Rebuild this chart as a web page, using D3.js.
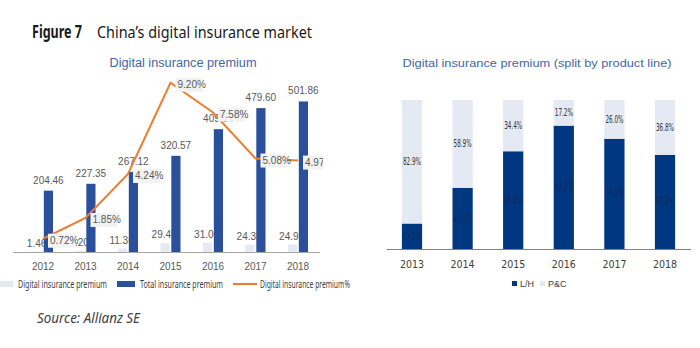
<!DOCTYPE html>
<html>
<head>
<meta charset="utf-8">
<script src="https://cdn.jsdelivr.net/npm/d3@7"></script>
<style>
  html, body { margin: 0; padding: 0; background: #fff; }
  svg { display: block; }
</style>
</head>
<body>
<div id="chart"></div>
<script>
// Left panel data
const years = ["2012", "2013", "2014", "2015", "2016", "2017", "2018"];
const digitalPremium = [1.46, 3.20, 11.36, 29.49, 31.00, 24.35, 24.93];
const totalPremium = [204.46, 227.35, 267.12, 320.57, 409.34, 479.60, 501.86];
const digitalShare = [0.72, 1.85, 4.24, 9.20, 7.58, 5.08, 4.97];

// Right panel data
const splitYears = ["2013", "2014", "2015", "2016", "2017", "2018"];
const lifeHealth = [17.1, 41.1, 65.6, 82.8, 74.0, 63.2];
const propertyCasualty = [82.9, 58.9, 34.4, 17.2, 26.0, 36.8];

const width = 700, height = 348;
const darkBlue = "#2a4f9b";
const lightBlue = "#e4e9f4";
const orange = "#ed7d31";
const navy = "#003781";
const grayText = "#595959";
const numFont = "'Liberation Sans', Arial, sans-serif";
const humanFont = "'Noto Sans', 'Open Sans', sans-serif";
const narrowFont = "'Liberation Sans Narrow', 'DejaVu Sans Condensed', sans-serif";

const svg = d3.select("#chart").append("svg")
  .attr("width", width)
  .attr("height", height)
  .attr("viewBox", `0 0 ${width} ${height}`);

// Heading
svg.append("text")
  .attr("x", 32).attr("y", 38)
  .attr("font-family", humanFont)
  .attr("font-weight", "bold")
  .attr("font-size", 17)
  .attr("fill", "#1a1a1a")
  .attr("textLength", 50).attr("lengthAdjust", "spacingAndGlyphs")
  .text("Figure 7");

svg.append("text")
  .attr("x", 97).attr("y", 38)
  .attr("font-family", humanFont)
  .attr("font-size", 17)
  .attr("fill", "#1a1a1a")
  .attr("textLength", 215).attr("lengthAdjust", "spacingAndGlyphs")
  .text("China\u2019s digital insurance market");

// ---------- Left panel ----------
svg.append("clipPath").attr("id", "left-clip")
  .append("rect").attr("x", 0).attr("y", 0).attr("width", 323).attr("height", height);

const left = svg.append("g").attr("clip-path", "url(#left-clip)");

const baseL = 252;
const x = d3.scaleBand().domain(years).range([21.75, 319.25]);
const sub = d3.scaleBand().domain(["digital", "total"]).range([-10, 10]).paddingInner(0.15);
const y = d3.scaleLinear().domain([0, 600]).range([baseL, 72]);
const yPct = d3.scaleLinear().domain([0, 10]).range([baseL, 68]);
const cx = d => x(d) + x.bandwidth() / 2;

svg.append("text")
  .attr("x", 183).attr("y", 67)
  .attr("text-anchor", "middle")
  .attr("font-family", numFont)
  .attr("font-size", 12)
  .attr("fill", "#3f66a6")
  .attr("textLength", 147).attr("lengthAdjust", "spacingAndGlyphs")
  .text("Digital insurance premium");

// axis line + year labels
const axisL = left.append("g")
  .attr("transform", `translate(0,${baseL})`)
  .call(d3.axisBottom(x).tickSize(0).tickPadding(11));
axisL.select(".domain").attr("stroke", "#a6a6a6").attr("d", "M13,0.5H320");
axisL.selectAll("text")
  .attr("font-family", numFont).attr("font-size", 10).attr("fill", grayText);

const rows = years.map((yr, i) => ({
  year: yr, digital: digitalPremium[i], total: totalPremium[i], pct: digitalShare[i]
}));

// digital bars and labels (drawn beneath the total bars)
left.selectAll(".bar-digital").data(rows).enter().append("rect")
  .attr("x", d => cx(d.year) + sub("digital"))
  .attr("width", sub.bandwidth())
  .attr("y", d => y(d.digital))
  .attr("height", d => baseL - y(d.digital))
  .attr("fill", lightBlue);

left.selectAll(".lab-digital").data(rows).enter().append("text")
  .attr("x", d => cx(d.year) + sub("digital") + sub.bandwidth() / 2 - 1)
  .attr("y", d => y(d.digital) - 5)
  .attr("text-anchor", "middle")
  .attr("font-family", numFont).attr("font-size", 10).attr("fill", grayText)
  .text(d => d.digital.toFixed(2));

left.selectAll(".bar-total").data(rows).enter().append("rect")
  .attr("x", d => cx(d.year) + sub("total"))
  .attr("width", sub.bandwidth())
  .attr("y", d => y(d.total))
  .attr("height", d => baseL - y(d.total))
  .attr("fill", darkBlue);

left.selectAll(".lab-total").data(rows).enter().append("text")
  .attr("x", d => cx(d.year) + sub("total") + sub.bandwidth() / 2)
  .attr("y", d => y(d.total) - 7)
  .attr("text-anchor", "middle")
  .attr("font-family", numFont).attr("font-size", 10).attr("fill", grayText)
  .text(d => d.total.toFixed(2));

// share line
left.append("path")
  .datum(rows)
  .attr("fill", "none")
  .attr("stroke", orange)
  .attr("stroke-width", 2)
  .attr("d", d3.line().x(d => cx(d.year)).y(d => yPct(d.pct)));

const pctLab = left.selectAll(".lab-pct").data(rows).enter().append("g")
  .attr("transform", d => `translate(${cx(d.year) + 5},${yPct(d.pct) + 2})`);
pctLab.append("rect")
  .attr("x", 0).attr("y", -7).attr("width", 27).attr("height", 14)
  .attr("fill", "#f2f2f2");
pctLab.append("text")
  .attr("x", 2).attr("y", 3.5)
  .attr("font-family", numFont).attr("font-size", 10).attr("fill", grayText)
  .text(d => d.pct.toFixed(2) + "%");

// legend (left)
const legL = svg.append("g").attr("transform", "translate(0,284)");
legL.append("rect").attr("x", -5).attr("y", -3).attr("width", 18).attr("height", 6).attr("fill", lightBlue);
legL.append("text").attr("x", 18).attr("y", 4)
  .attr("font-family", humanFont).attr("font-size", 10.5).attr("fill", "#404040")
  .attr("textLength", 89).attr("lengthAdjust", "spacingAndGlyphs")
  .text("Digital insurance premium");
legL.append("rect").attr("x", 117).attr("y", -3).attr("width", 18).attr("height", 6).attr("fill", darkBlue);
legL.append("text").attr("x", 140).attr("y", 4)
  .attr("font-family", humanFont).attr("font-size", 10.5).attr("fill", "#404040")
  .attr("textLength", 83).attr("lengthAdjust", "spacingAndGlyphs")
  .text("Total insurance premium");
legL.append("line").attr("x1", 233).attr("x2", 257).attr("y1", 0).attr("y2", 0)
  .attr("stroke", orange).attr("stroke-width", 2);
legL.append("text").attr("x", 260).attr("y", 4)
  .attr("font-family", humanFont).attr("font-size", 10.5).attr("fill", "#404040")
  .attr("textLength", 90).attr("lengthAdjust", "spacingAndGlyphs")
  .text("Digital insurance premium%");

// ---------- Right panel ----------
const baseR = 249;
const xr = d3.scaleBand().domain(splitYears).range([386.7, 690.3]).paddingInner(0.6).paddingOuter(0.3);
const yr = d3.scaleLinear().domain([0, 100]).range([baseR, 100]);

svg.append("text")
  .attr("x", 537).attr("y", 67)
  .attr("text-anchor", "middle")
  .attr("font-family", numFont)
  .attr("font-size", 11.5)
  .attr("fill", "#3f66a6")
  .attr("textLength", 269).attr("lengthAdjust", "spacingAndGlyphs")
  .text("Digital insurance premium (split by product line)");

const splitRows = splitYears.map((yrs, i) => ({ year: yrs, lh: lifeHealth[i], pc: propertyCasualty[i] }));
const stack = d3.stack().keys(["lh", "pc"])(splitRows);
const stackColor = { lh: navy, pc: lightBlue };

const layers = svg.selectAll(".layer").data(stack).enter().append("g")
  .attr("fill", d => stackColor[d.key]);
layers.selectAll("rect").data(d => d).enter().append("rect")
  .attr("x", d => xr(d.data.year))
  .attr("width", xr.bandwidth())
  .attr("y", d => yr(d[1]))
  .attr("height", d => yr(d[0]) - yr(d[1]));

layers.each(function (layer) {
  d3.select(this).selectAll("text").data(layer).enter().append("text")
    .attr("x", d => xr(d.data.year) + xr.bandwidth() / 2)
    .attr("y", d => (yr(d[0]) + yr(d[1])) / 2 + 3.5)
    .attr("text-anchor", "middle")
    .attr("font-family", narrowFont)
    .attr("font-size", 10)
    .attr("fill", layer.key === "lh" ? "#14285a" : "#333333")
    .attr("textLength", 18).attr("lengthAdjust", "spacingAndGlyphs")
    .text(d => d.data[layer.key].toFixed(1) + "%");
});

const axisR = svg.append("g")
  .attr("transform", `translate(0,${baseR})`)
  .call(d3.axisBottom(xr).tickSize(0).tickPadding(12));
axisR.select(".domain").attr("stroke", "#808080").attr("d", "M387,0.5H691");
axisR.selectAll("text")
  .attr("font-family", narrowFont).attr("font-size", 10.5).attr("fill", "#404040");

// legend (right)
const legR = svg.append("g").attr("transform", "translate(0,284)");
legR.append("rect").attr("x", 512).attr("y", -3).attr("width", 5).attr("height", 5).attr("fill", navy);
legR.append("text").attr("x", 520).attr("y", 3)
  .attr("font-family", numFont).attr("font-size", 9).attr("fill", "#404040")
  .text("L/H");
legR.append("rect").attr("x", 540).attr("y", -3).attr("width", 5).attr("height", 5).attr("fill", lightBlue);
legR.append("text").attr("x", 548).attr("y", 3)
  .attr("font-family", numFont).attr("font-size", 9).attr("fill", "#404040")
  .text("P&C");

// Source
svg.append("text")
  .attr("x", 37).attr("y", 323)
  .attr("font-family", humanFont)
  .attr("font-style", "italic")
  .attr("font-size", 14)
  .attr("fill", "#404040")
  .attr("textLength", 103).attr("lengthAdjust", "spacingAndGlyphs")
  .text("Source: Allianz SE");
</script>
</body>
</html>
